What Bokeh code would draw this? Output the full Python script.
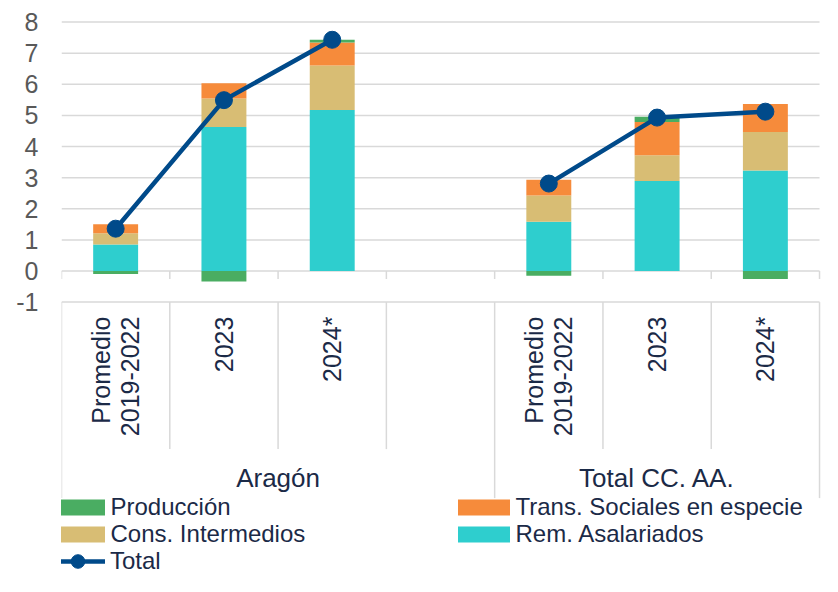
import numpy as np
from bokeh.plotting import figure
from bokeh.models import ColumnDataSource, Legend, LegendItem, Range1d, FixedTicker
from bokeh.core.properties import value
from bokeh.embed import file_html
from bokeh.resources import INLINE

# ---------------- data ----------------
groups = ["Aragón", "Total CC. AA."]
periods = ["Promedio\n2019-2022", "2023", "2024*"]
# one value per bar: Aragón (3 periods) then Total CC. AA. (3 periods)
rem_asalariados = [0.85, 4.63, 5.17, 1.58, 2.89, 3.23]
cons_intermedios = [0.36, 0.91, 1.43, 0.85, 0.83, 1.24]
trans_sociales = [0.29, 0.49, 0.74, 0.50, 1.07, 0.90]
produccion = [-0.10, -0.34, 0.09, -0.15, 0.17, -0.26]
total = [1.36, 5.49, 7.43, 2.81, 4.93, 5.12]
y_ticks = [-1, 0, 1, 2, 3, 4, 5, 6, 7, 8]

# ---------------- style ----------------
FONT = "Liberation Sans"
NAVY = "#1b2a47"
GRID = "#d9d9d9"
C_PROD = "#4aad62"
C_TRANS = "#f68b3b"
C_CONS = "#d8bd74"
C_REM = "#2ecece"
C_TOTAL = "#004a8a"

W, H = 822, 576
LEFT = 61
SLOT = 108.29
UNIT = 31.12
ZERO_Y = 270.5  # px from figure top

p = figure(width=W, height=H, output_backend="svg", toolbar_location=None,
           x_range=Range1d(0, (W - LEFT) / SLOT),
           y_range=Range1d(-(H - ZERO_Y) / UNIT, ZERO_Y / UNIT),
           x_axis_location=None, min_border_left=LEFT, min_border_right=0,
           min_border_top=0, min_border_bottom=0, outline_line_color=None)
p.xgrid.visible = False
p.ygrid.visible = False

yax = p.yaxis[0]
yax.ticker = FixedTicker(ticks=y_ticks)
yax.major_label_overrides = {t: str(t) for t in y_ticks}
yax.axis_line_color = None
yax.major_tick_line_color = None
yax.major_tick_out = 0
yax.major_tick_in = 0
yax.minor_tick_line_color = None
yax.minor_tick_out = 0
yax.major_label_text_font = FONT
yax.major_label_text_font_size = "25px"
yax.major_label_text_color = "#595959"
yax.major_label_standoff = 23

# slot layout: Aragón has 3 bars + 1 empty slot, Total CC. AA. has 3 bars
group_slots = [len(periods) + 1, len(periods)]
bounds = np.concatenate([[0], np.cumsum(group_slots)])
xs = []
for g in range(len(groups)):
    for i in range(len(periods)):
        xs.append(bounds[g] + i + 0.5)
xs = np.array(xs)
x_end = bounds[-1]

# grid lines
p.segment(x0=[0] * len(y_ticks), x1=[x_end] * len(y_ticks), y0=y_ticks, y1=y_ticks,
          line_color=GRID, line_width=1.5)

# tick marks on the zero line
all_b = np.arange(0, x_end + 1)
p.segment(x0=all_b, x1=all_b, y0=[0] * len(all_b), y1=[-8 / UNIT] * len(all_b),
          line_color=GRID, line_width=1.5)

# category separators below the -1 line
outer = list(bounds)
inner = [b for b in all_b if b not in outer]
p.segment(x0=inner, x1=inner, y0=[-1] * len(inner), y1=[-1 - 147 / UNIT] * len(inner),
          line_color=GRID, line_width=1.5)
p.segment(x0=outer, x1=outer, y0=[-1] * len(outer), y1=[-1 - 196 / UNIT] * len(outer),
          line_color=GRID, line_width=1.5)

# stacked bars
series = [("Rem. Asalariados", rem_asalariados, C_REM),
          ("Cons. Intermedios", cons_intermedios, C_CONS),
          ("Trans. Sociales en especie", trans_sociales, C_TRANS),
          ("Producción", produccion, C_PROD)]
pos = np.zeros(len(xs))
neg = np.zeros(len(xs))
bar_r = {}
for name, vals, col in series:
    v = np.array(vals, dtype=float)
    bottom = np.where(v >= 0, pos, neg)
    top = bottom + v
    pos = np.where(v >= 0, top, pos)
    neg = np.where(v < 0, top, neg)
    src = ColumnDataSource(dict(x=xs, bottom=bottom, top=top))
    bar_r[name] = p.vbar(x="x", width=0.415, bottom="bottom", top="top", source=src,
                         fill_color=col, line_color=None)

# total line (one per group)
tot = np.array(total)
line_r = None
for g in range(len(groups)):
    sl = slice(g * len(periods), (g + 1) * len(periods))
    lr = p.line(xs[sl], tot[sl], line_color=C_TOTAL, line_width=4.5)
    if line_r is None:
        line_r = lr
dot_r = p.scatter(xs, tot, size=17, fill_color=C_TOTAL, line_color=C_TOTAL)

# category labels
cat_src = ColumnDataSource(dict(x=xs, y=[-1 - 14.5 / UNIT] * len(xs),
                                t=[periods[i % len(periods)] for i in range(len(xs))]))
p.text(x="x", y="y", text="t", source=cat_src, angle=np.pi / 2,
       text_align="right", text_baseline="middle", text_font=value(FONT),
       text_font_size="25px", text_color=NAVY, text_line_height=1.05)

# group labels
gx = [(bounds[g] + bounds[g + 1]) / 2 for g in range(len(groups))]
p.text(x=gx, y=[-1 - 176 / UNIT] * len(groups), text=groups, text_align="center",
       text_baseline="middle", text_font=value(FONT), text_font_size="26px",
       text_color=NAVY)

# legends (one per entry, so each can be placed exactly)
def mk_legend(label, renderers, x_px, center_y_px, gw=65, gh=20, standoff=0, row_h=30):
    vy = (H - center_y_px) - row_h / 2
    lg = Legend(items=[LegendItem(label=label, renderers=renderers)],
                location=(x_px - LEFT, vy), orientation="vertical",
                glyph_width=gw, glyph_height=gh, label_standoff=standoff, spacing=0,
                padding=0, margin=0, label_height=row_h,
                label_text_font=FONT, label_text_font_size="24px",
                label_text_color=NAVY, background_fill_alpha=0,
                border_line_color=None)
    p.add_layout(lg)

mk_legend("Producción", [bar_r["Producción"]], 45.5, 507)
mk_legend("Cons. Intermedios", [bar_r["Cons. Intermedios"]], 45.5, 534)
mk_legend("Total", [line_r, dot_r], 50, 561, gw=55, gh=34, standoff=5, row_h=34)
mk_legend("Trans. Sociales en especie", [bar_r["Trans. Sociales en especie"]], 450.5, 507)
mk_legend("Rem. Asalariados", [bar_r["Rem. Asalariados"]], 450.5, 534)

open("out.html", "w").write(file_html(p, INLINE))
